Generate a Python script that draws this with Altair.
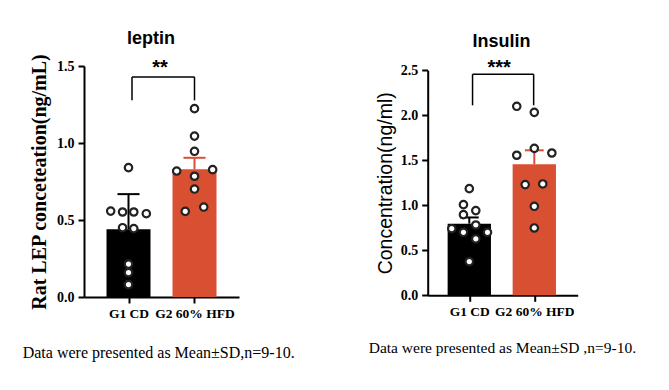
import altair as alt
import pandas as pd

groups = ["G1 CD", "G2 60% HFD"]
bar_colors = ["#000000", "#d94f32"]

# ---- leptin panel values ----
lep_mean = [0.44, 0.83]
lep_err = [0.228, 0.074]
lep_cd = [0.840, 0.558, 0.552, 0.552, 0.541, 0.450, 0.444, 0.214, 0.158, 0.080]
lep_cd_jit = [0.00, -0.27, -0.09, 0.08, 0.27, -0.09, 0.08, 0.00, 0.00, 0.00]
lep_hfd = [1.223, 1.045, 0.946, 0.818, 0.827, 0.784, 0.701, 0.556, 0.584]
lep_hfd_jit = [0.00, 0.00, 0.00, -0.27, 0.275, 0.00, 0.00, -0.14, 0.14]
lep_bracket = [1.429, 1.277]
lep_bracket_x = [0.053, 1.0]
lep_sig = "**"
lep_sig_x = 0.477
lep_ticks = [0.0, 0.5, 1.0, 1.5]

# ---- insulin panel values ----
ins_mean = [0.796, 1.456]
ins_err = [0.069, 0.155]
ins_cd = [1.185, 1.007, 0.941, 0.896, 0.781, 0.740, 0.700, 0.700, 0.626, 0.374]
ins_cd_jit = [0.00, -0.09, 0.10, -0.09, 0.10, -0.27, -0.09, 0.28, 0.10, 0.00]
ins_hfd = [2.100, 2.033, 1.633, 1.556, 1.581, 1.230, 1.237, 0.989, 0.748]
ins_hfd_jit = [-0.27, 0.00, 0.00, -0.27, 0.27, -0.14, 0.13, 0.00, 0.00]
ins_bracket = [2.456, 2.111]
ins_bracket_x = [0.05, 0.99]
ins_sig = "***"
ins_sig_x = 0.46
ins_ticks = [0.0, 0.5, 1.0, 1.5, 2.0, 2.5]

caption_left = "Data were presented as Mean\u00b1SD,n=9-10."
caption_right = "Data were presented as Mean\u00b1SD ,n=9-10."

SERIF = "Liberation Serif"
SANS = "Liberation Sans"

label_expr = "datum.value == 0 ? '%s' : '%s'" % (groups[0], groups[1])


def panel(title, title_pos, means, errs, cd_vals, cd_jit, hfd_vals, hfd_jit,
          bracket, bracket_x, sig, sig_x, ydomain, yticks, yrange, xdomain,
          width, height, ytitle, ytfont, ytweight, ytsize, ytitle_x,
          caption, caption_pos, caption_size, cap_half, sig_dy):
    half = 1 / 3
    bars = pd.DataFrame({"group": groups, "u": [0, 1], "mean": means,
                         "top": [m + e for m, e in zip(means, errs)]})
    bars["base"] = 0.0
    bars["lo"] = bars["u"] - half
    bars["hi"] = bars["u"] + half
    bars["clo"] = bars["u"] - cap_half
    bars["chi"] = bars["u"] + cap_half
    pts = pd.DataFrame({
        "group": [groups[0]] * len(cd_vals) + [groups[1]] * len(hfd_vals),
        "value": cd_vals + hfd_vals,
        "u": [0 + j for j in cd_jit] + [1 + j for j in hfd_jit],
    })
    br = pd.DataFrame({"x1": [bracket_x[0]], "x2": [bracket_x[1]], "xs": [sig_x],
                       "top": [bracket[0]], "bottom": [bracket[1]], "sig": [sig]})
    ttl = pd.DataFrame({"t": [title]})
    cap = pd.DataFrame({"t": [caption]})

    yscale = alt.Scale(domain=ydomain, range=yrange, nice=False, zero=True)
    yaxis = alt.Axis(values=yticks, format=".1f", labelPadding=4,
                     labelFont=SERIF, labelFontWeight="bold", labelFontSize=14,
                     titleFont=ytfont, titleFontSize=ytsize,
                     titleFontWeight=ytweight, titleColor="black", titleX=ytitle_x,
                     titleY=(yrange[0] + yrange[1]) / 2, titleAngle=270,
                     titleBaseline="alphabetic", titleAlign="center")
    xscale = alt.Scale(domain=xdomain, nice=False, zero=False)
    xaxis = alt.Axis(values=[0, 1], labelExpr=label_expr, labelFontSize=13.5,
                     labelPadding=3, title=None)

    def X(f):
        return alt.X(f, type="quantitative", scale=xscale, axis=xaxis, title=None)

    def Y(f):
        return alt.Y(f, type="quantitative", scale=yscale, axis=yaxis, title=ytitle)

    color = alt.Color("group:N", scale=alt.Scale(domain=groups, range=bar_colors), legend=None)

    bar_layer = alt.Chart(bars).mark_bar().encode(x=X("lo"), x2="hi", y=Y("base"), y2="mean",
                                                  color=color)
    err_layer = alt.Chart(bars).mark_rule(strokeWidth=2).encode(
        x=X("u"), y=Y("mean"), y2="top", color=color)
    cap_layer = alt.Chart(bars).mark_rule(strokeWidth=2).encode(
        x=X("clo"), x2="chi", y=Y("top"), color=color)
    pt_layer = alt.Chart(pts).mark_circle(size=55, fill="white", stroke="#222222",
                                          strokeWidth=2.2, opacity=1).encode(
        x=X("u"), y=Y("value"))
    hline = alt.Chart(br).mark_rule(color="black", strokeWidth=1.5).encode(
        x=X("x1"), x2="x2", y=Y("top"))
    leg1 = alt.Chart(br).mark_rule(color="black", strokeWidth=1.5).encode(
        x=X("x1"), y=Y("top"), y2="bottom")
    leg2 = alt.Chart(br).mark_rule(color="black", strokeWidth=1.5).encode(
        x=X("x2"), y=Y("top"), y2="bottom")
    sig_layer = alt.Chart(br).mark_text(font=SANS, fontSize=20, fontWeight="bold",
                                        color="black", dy=sig_dy,
                                        baseline="alphabetic", align="center").encode(
        x=X("xs"), y=Y("top"), text="sig:N")
    title_layer = alt.Chart(ttl).mark_text(font=SANS, fontSize=18, fontWeight="bold",
                                           color="black", baseline="alphabetic",
                                           align="center").encode(
        x=alt.value(title_pos[0]), y=alt.value(title_pos[1]), text="t:N")
    cap_layer2 = alt.Chart(cap).mark_text(font=SERIF, fontSize=caption_size, color="black",
                                          baseline="alphabetic", align="left").encode(
        x=alt.value(caption_pos[0]), y=alt.value(caption_pos[1]), text="t:N")

    return alt.layer(bar_layer, err_layer, cap_layer, pt_layer, hline, leg1, leg2,
                     sig_layer, title_layer, cap_layer2).properties(width=width, height=height)


left = panel("leptin", (67, -21.7), lep_mean, lep_err, lep_cd, lep_cd_jit, lep_hfd, lep_hfd_jit,
             lep_bracket, lep_bracket_x, lep_sig, lep_sig_x, [0, 1.5], lep_ticks, [231, 0],
             [-0.6743, 1.6743], 155, 231, "Rat LEP conceteation(ng/mL)", SERIF, "bold", 20, -38.4,
             caption_left, (-61.3, 291.5), 16, 0.167, -3)

right = panel("Insulin", (73.8, -19), ins_mean, ins_err, ins_cd, ins_cd_jit, ins_hfd, ins_hfd_jit,
              ins_bracket, ins_bracket_x, ins_sig, ins_sig_x, [0, 2.5], ins_ticks, [229.3, 4.3],
              [-0.64, 1.6677], 150, 229.3, "Concentration(ng/ml)", SANS, "normal", 19.5, -36.4,
              caption_right, (-59, 287), 15.5, 0.145, 0)

chart = alt.hconcat(left, right, spacing=188.7, bounds="flush").configure_view(
    stroke=None).configure_axis(
    labelFont=SERIF, labelFontWeight="bold", labelFontSize=13.5, labelColor="black",
    tickSize=6, tickWidth=2, tickColor="black", domainColor="black", domainWidth=2,
    grid=False).configure_axisX(labelFontSize=13.5, labelAngle=0).configure_axisY(
    labelFontSize=14).properties(
    padding={"left": 14, "top": 22, "right": 5, "bottom": 5})

chart.save("out.html", embed_options={"renderer": "svg", "actions": False})
